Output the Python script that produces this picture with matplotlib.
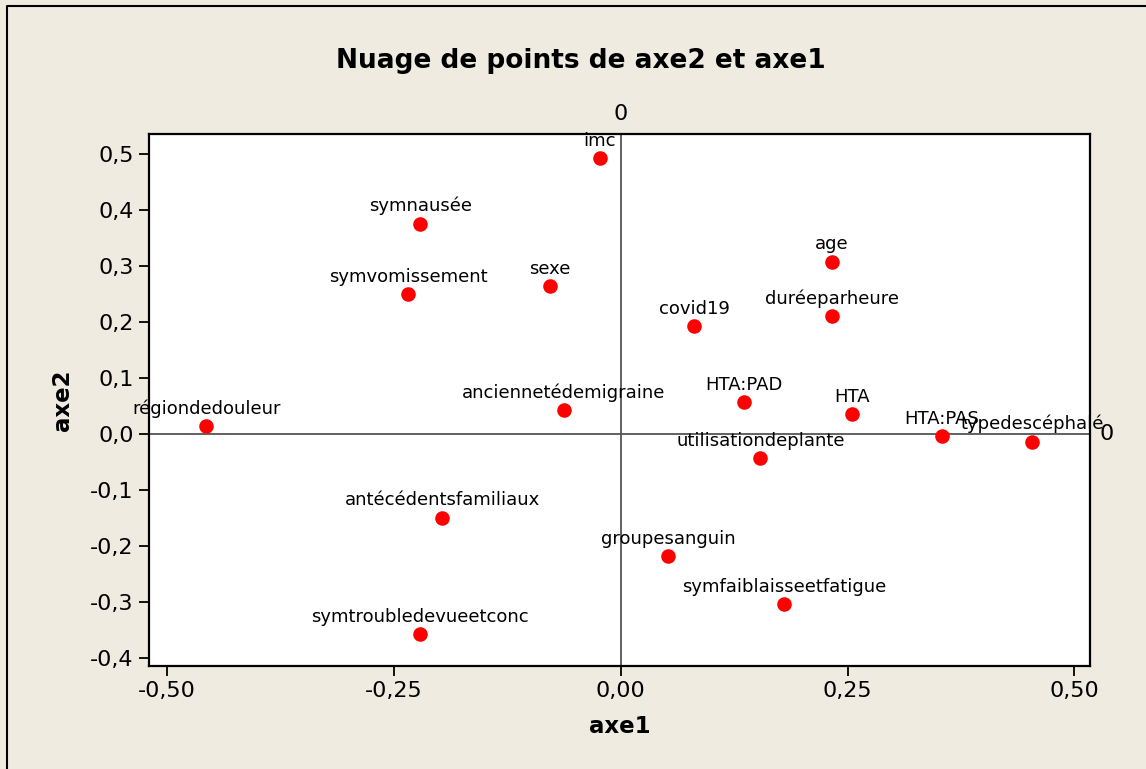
"""
Nuage de points axe2 vs axe1 (Minitab style)
"""

import matplotlib.pyplot as plt
from matplotlib.ticker import FuncFormatter
from matplotlib.lines import Line2D

# Data
labels = ['imc', 'symnausée', 'symvomissement', 'sexe', 'age', 'duréeparheure',
          'covid19', 'anciennetédemigraine', 'HTA:PAD', 'HTA', 'HTA:PAS',
          'typedescéphalé', 'régiondedouleur', 'utilisationdeplante',
          'antécédentsfamiliaux', 'groupesanguin', 'symfaiblaisseetfatigue',
          'symtroubledevueetconc']
axe1 = [-0.023, -0.221, -0.234, -0.078, 0.233, 0.233,
        0.081, -0.063, 0.136, 0.255, 0.354,
        0.453, -0.457, 0.154,
        -0.197, 0.052, 0.180,
        -0.221]
axe2 = [0.494, 0.376, 0.250, 0.265, 0.308, 0.211,
        0.193, 0.043, 0.057, 0.036, -0.004,
        -0.014, 0.014, -0.043,
        -0.150, -0.218, -0.304,
        -0.358]
xticks = [-0.50, -0.25, 0.00, 0.25, 0.50]
yticks = [-0.4, -0.3, -0.2, -0.1, 0.0, 0.1, 0.2, 0.3, 0.4, 0.5]

bg = '#efebe1'

fig = plt.figure(figsize=(11.46, 7.69), dpi=100, facecolor=bg)
# outer frame (only left and top edges visible in the original)
fig.lines.append(Line2D([0.0065, 0.0065, 1.0], [0.0, 0.992, 0.992], transform=fig.transFigure,
                        color='black', linewidth=1.5))

ax = fig.add_axes([0.130, 0.134, 0.821, 0.692])
ax.set_facecolor('white')

# reference lines
ax.axvline(0, color='#555555', linewidth=1.3, zorder=1)
ax.axhline(0, color='#555555', linewidth=1.3, zorder=1)

ax.scatter(axe1, axe2, s=110, color='#ff0000', zorder=3, linewidths=0)

for lab, x, y in zip(labels, axe1, axe2):
    ax.annotate(lab, (x, y), xytext=(0, 6), textcoords='offset points',
                ha='center', va='bottom', fontsize=13, color='black',
                annotation_clip=False, zorder=4)

ax.set_xlim(-0.52, 0.517)
ax.set_ylim(-0.415, 0.537)
ax.set_xticks(xticks)
ax.set_yticks(yticks)
ax.xaxis.set_major_formatter(FuncFormatter(lambda v, p: f'{v:.2f}'.replace('.', ',')))
ax.yaxis.set_major_formatter(FuncFormatter(lambda v, p: f'{v:.1f}'.replace('.', ',')))
ax.tick_params(axis='both', direction='out', length=7, width=1.3, labelsize=16, pad=4)

for side in ['top', 'right', 'left', 'bottom']:
    ax.spines[side].set_linewidth(1.6)

# "0" markers of the reference lines
ax.text(0, 1.018, '0', transform=ax.get_xaxis_transform(), ha='center', va='bottom', fontsize=16)
ax.text(1.01, 0, '0', transform=ax.get_yaxis_transform(), ha='left', va='center', fontsize=16)

ax.set_xlabel('axe1', fontsize=16.5, fontweight='bold', labelpad=10)
ax.set_ylabel('axe2', fontsize=16.5, fontweight='bold', labelpad=12)
fig.suptitle('Nuage de points de axe2 et axe1', fontsize=19, fontweight='bold',
             x=0.507, y=0.938)

plt.savefig('out.png', dpi=100, facecolor=bg)
plt.close()
